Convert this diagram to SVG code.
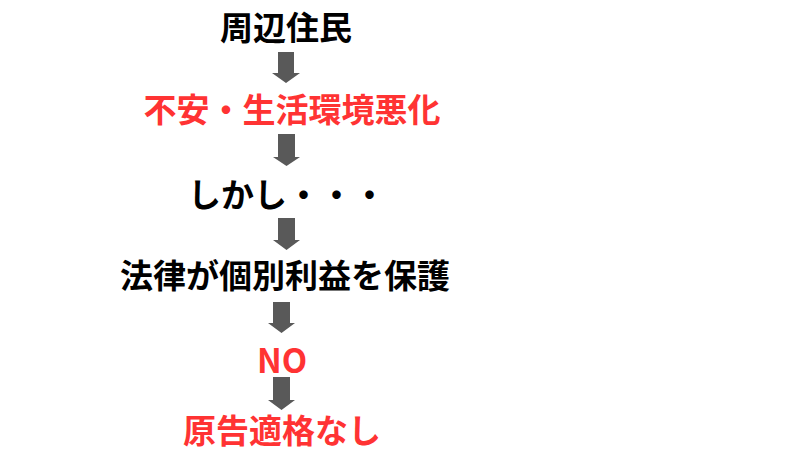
<svg xmlns="http://www.w3.org/2000/svg" width="800" height="450" viewBox="0 0 800 450">
<style>
text{font-family:"Noto Sans CJK JP","Noto Sans",sans-serif;font-weight:bold;font-size:33px;text-anchor:middle}
.k{fill:#000}
.r{fill:#ff3333}
.a{fill:#595959}
</style>
<rect width="800" height="450" fill="#fff"/>
<g id="connectors">
<path class="a" d="M278,52 H294 V73 H300 L286,83 L272,73 H278 Z"/>
<path class="a" d="M278,134 H295 V157 H300 L286.5,166 L273,157 H278 Z"/>
<path class="a" d="M278,218 H295 V240 H300 L286.5,250 L273,240 H278 Z"/>
<path class="a" d="M273,302 H290 V323 H295 L281.5,333 L268,323 H273 Z"/>
<path class="a" d="M273,377 H290 V400 H295 L281.5,410 L268,400 H273 Z"/>
</g>
<g id="n1"><text class="k" x="286" y="40">周辺住民</text></g>
<g id="n2"><text class="r" x="292" y="122">不安・生活環境悪化</text></g>
<g id="n3"><text class="k" x="287" y="207">しかし・・・</text></g>
<g id="n4"><text class="k" x="285" y="288">法律が個別利益を保護</text></g>
<g id="n5"><text class="r" x="282" y="373">NO</text></g>
<g id="n6"><text class="r" x="282" y="443">原告適格なし</text></g>
</svg>
